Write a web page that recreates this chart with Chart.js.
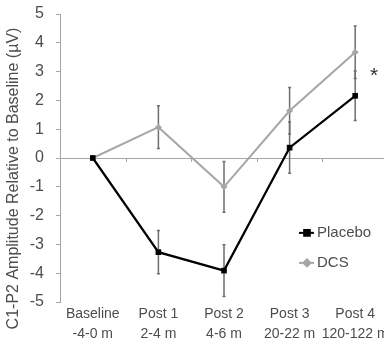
<!DOCTYPE html>
<html>
<head>
<meta charset="utf-8">
<script src="https://cdn.jsdelivr.net/npm/chart.js@4"></script>
<style>
  html, body { margin: 0; padding: 0; background: #fff; overflow: hidden; }
  #wrap { position: absolute; left: 0; top: 0; width: 392px; height: 345px; }
</style>
</head>
<body>
<div id="wrap"><canvas id="chart"></canvas></div>
<script>
// Session labels (name + time window)
const sessions = [
    ['Baseline', '-4-0 m'],
    ['Post 1', '2-4 m'],
    ['Post 2', '4-6 m'],
    ['Post 3', '20-22 m'],
    ['Post 4', '120-122 m']
];

// Mean change from baseline (µV) and error (±)
const placeboMean = [0, -3.27, -3.91, 0.36, 2.16];
const placeboErr = [0, 0.75, 0.90, 0.89, 0.86];
const dcsMean = [0, 1.07, -1.00, 1.64, 3.67];
const dcsErr = [0, 0.74, 0.88, 0.81, 0.91];

const yTicks = [-5, -4, -3, -2, -1, 0, 1, 2, 3, 4, 5];
const axisGray = '#a6a6a6';
const textGray = '#4d4d4d';
const fontFamily = '"Liberation Sans", Arial, sans-serif';

// Error bars, zero line ticks, y title, legend and significance mark
const extras = {
    id: 'extras',
    beforeDatasetsDraw(chart) {
        const ctx = chart.ctx;
        const xs = chart.scales.x;
        const ys = chart.scales.y;
        const y0 = ys.getPixelForValue(0);
        ctx.save();
        // small tick marks along the zero line, between categories
        ctx.strokeStyle = axisGray;
        ctx.lineWidth = 1;
        const step = xs.getPixelForValue(1) - xs.getPixelForValue(0);
        for (let i = 0; i < sessions.length; i++) {
            const x = Math.round(xs.getPixelForValue(i) + step / 2) + 0.5;
            ctx.beginPath();
            ctx.moveTo(x, y0);
            ctx.lineTo(x, y0 + 4);
            ctx.stroke();
        }
        // error bars
        ctx.strokeStyle = '#6e6e6e';
        ctx.lineWidth = 1.5;
        [[placeboMean, placeboErr], [dcsMean, dcsErr]].forEach(([mean, err]) => {
            mean.forEach((m, i) => {
                if (!err[i]) return;
                const x = xs.getPixelForValue(i);
                const top = ys.getPixelForValue(m + err[i]);
                const bot = ys.getPixelForValue(m - err[i]);
                ctx.beginPath();
                ctx.moveTo(x, top);
                ctx.lineTo(x, bot);
                ctx.moveTo(x - 1.5, top);
                ctx.lineTo(x + 1.5, top);
                ctx.moveTo(x - 1.5, bot);
                ctx.lineTo(x + 1.5, bot);
                ctx.stroke();
            });
        });
        ctx.restore();
    },
    afterDraw(chart) {
        const ctx = chart.ctx;
        const xs = chart.scales.x;
        const ys = chart.scales.y;
        const area = chart.chartArea;
        ctx.save();
        // y axis title
        ctx.fillStyle = textGray;
        ctx.font = '16px ' + fontFamily;
        ctx.textAlign = 'center';
        ctx.textBaseline = 'middle';
        ctx.translate(14, chart.height / 2 + 6);
        ctx.rotate(-Math.PI / 2);
        ctx.fillText('C1-P2 Amplitude Relative to Baseline (\u00b5V)', 0, 0);
        ctx.restore();

        // significance mark at Post 4
        ctx.save();
        ctx.fillStyle = '#333';
        ctx.font = '21px ' + fontFamily;
        ctx.textAlign = 'center';
        ctx.textBaseline = 'middle';
        ctx.fillText('*', xs.getPixelForValue(4) + 19, ys.getPixelForValue(2.85));
        ctx.restore();

        // legend: line with marker, then label
        const items = [
            { label: 'Placebo', color: '#000', style: 'rect', size: 4 },
            { label: 'DCS', color: '#a6a6a6', style: 'rectRot', size: 3.5 }
        ];
        ctx.save();
        ctx.font = '15px ' + fontFamily;
        ctx.textBaseline = 'middle';
        items.forEach((it, k) => {
            const lx = area.right - 89;
            const ly = ys.getPixelForValue(-2.6) + k * 30;
            ctx.strokeStyle = it.color;
            ctx.fillStyle = it.color;
            ctx.lineWidth = 2;
            ctx.beginPath();
            ctx.moveTo(lx, ly);
            ctx.lineTo(lx + 15, ly);
            ctx.stroke();
            Chart.helpers.drawPoint(ctx, {
                pointStyle: it.style, radius: it.size, borderWidth: 1, rotation: 0
            }, lx + 8, ly);
            ctx.fillStyle = textGray;
            ctx.fillText(it.label, lx + 18, ly);
        });
        ctx.restore();
    }
};

new Chart(document.getElementById('chart'), {
    type: 'line',
    data: {
        labels: sessions,
        datasets: [
            {
                label: 'Placebo',
                data: placeboMean,
                borderColor: '#000',
                backgroundColor: '#000',
                borderWidth: 2.2,
                pointStyle: 'rect',
                pointRadius: 4,
                pointBorderWidth: 0,
                tension: 0
            },
            {
                label: 'DCS',
                data: dcsMean,
                borderColor: '#a6a6a6',
                backgroundColor: '#a6a6a6',
                borderWidth: 2,
                pointStyle: 'rectRot',
                pointRadius: 3.5,
                pointBorderWidth: 0,
                tension: 0
            }
        ]
    },
    options: {
        responsive: true,
        maintainAspectRatio: false,
        animation: false,
        layout: { padding: { top: 14, right: 0, left: 0, bottom: 0 } },
        plugins: {
            legend: { display: false },
            tooltip: { enabled: false }
        },
        scales: {
            x: {
                offset: true,
                grid: { display: false },
                border: { display: false },
                ticks: {
                    color: textGray,
                    font: { family: fontFamily, size: 14, lineHeight: 1.45 },
                    padding: -6,
                    maxRotation: 0,
                    autoSkip: false
                },
                afterFit(scale) { scale.height = 43; }
            },
            y: {
                min: -5,
                max: 5,
                afterBuildTicks(scale) { scale.ticks = yTicks.map(v => ({ value: v })); },
                grid: {
                    color: c => (c.tick && c.tick.value === 0 ? axisGray : 'transparent'),
                    tickColor: axisGray,
                    tickLength: 4,
                    lineWidth: 1
                },
                border: { color: axisGray, width: 1 },
                ticks: {
                    color: textGray,
                    font: { family: fontFamily, size: 16 },
                    padding: 12
                },
                afterFit(scale) {
                    scale.width = 60;
                    scale.paddingTop = 0;
                    scale.paddingBottom = 0;
                }
            }
        }
    },
    plugins: [extras]
});
</script>
</body>
</html>
